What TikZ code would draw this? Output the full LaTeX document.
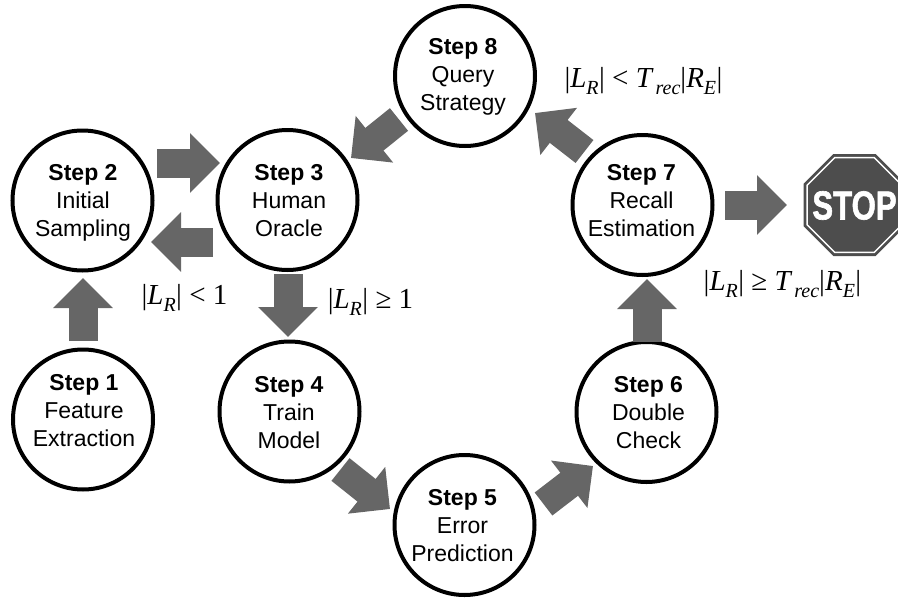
\documentclass[tikz,border=0pt]{standalone}
\usepackage{fontspec}
\setmainfont{Liberation Sans}
\newfontfamily\serfont{Liberation Serif}
\newfontfamily\stopfont[FakeBold=1.6]{Liberation Sans Bold}
\usetikzlibrary{arrows.meta,shapes.geometric}
\newcommand{\subit}[1]{\raisebox{-6.5pt}{\fontsize{20}{20}\selectfont\textit{#1}}}
\newcommand{\absL}{|\textit{L}\subit{R}\kern.5pt|}
\newcommand{\absR}{|\textit{R}\subit{E}\kern.5pt|}
\newcommand{\Trec}{\textit{T}\kern2pt\subit{rec}}
\definecolor{arrowgray}{HTML}{666666}
\definecolor{stopgray}{HTML}{4D4D4D}
\tikzset{
  stepnode/.style={circle,draw=black,fill=white,line width=4pt,minimum size=140pt,inner sep=0pt,outer sep=0pt},
  steptext/.style={inner sep=0pt,outer sep=0pt,align=center,font=\fontsize{23}{28}\selectfont},
  bigarrow/.style={draw=arrowgray,line width=29pt,-{Triangle[length=30pt,width=58pt]}},
  condlabel/.style={inner sep=0pt,outer sep=0pt,font=\serfont\fontsize{29}{29}\selectfont},
  octagon/.style={regular polygon,regular polygon sides=8,inner sep=0pt,outer sep=0pt},
}
\begin{document}
\begin{tikzpicture}[x=1pt,y=-1pt]
\path[use as bounding box,clip] (0,0) rectangle (898,600);
\node[stepnode] (s1) at (83,419.5) {};
\node[stepnode] (s2) at (82.5,200.5) {};
\node[stepnode] (s3) at (287.5,200) {};
\node[stepnode] (s4) at (289.5,411.5) {};
\node[stepnode] (s5) at (464.5,525) {};
\node[stepnode] (s6) at (646.5,412) {};
\node[stepnode] (s7) at (642.5,205) {};
\node[stepnode] (s8) at (465,76) {};
\node[steptext] (t1) at (84,411) {\textbf{Step 1}\\Feature\\Extraction};
\node[steptext] (t2) at (83,203) {\textbf{Step 2}\\Initial\\Sampling};
\node[steptext] (t3) at (289,201) {\textbf{Step 3}\\Human\\Oracle};
\node[steptext] (t4) at (289,413) {\textbf{Step 4}\\Train\\Model};
\node[steptext] (t5) at (462.5,526) {\textbf{Step 5}\\Error\\Prediction};
\node[steptext] (t6) at (648.5,413) {\textbf{Step 6}\\Double\\Check};
\node[steptext] (t7) at (641.5,201) {\textbf{Step 7}\\Recall\\Estimation};
\node[steptext] (t8) at (463,77) {\textbf{Step 8}\\Query\\Strategy};
\node[octagon,minimum size=110.4pt,fill=stopgray] (stop) at (854.5,205) {};
\node[octagon,minimum size=102.8pt,draw=white,line width=1.5pt] (stopring) at (stop.center) {};
\node[inner sep=0pt,outer sep=0pt,font=\stopfont\fontsize{40.5}{40.5}\selectfont,text=white] (stoptext) at (854.5,205.5) {\scalebox{.77}[1]{STOP}};
\draw[bigarrow] ([shift={(0,-78.5)}]s1.center) -- ([shift={(0.5,77.5)}]s2.center);
\draw[bigarrow] ([shift={(74.5,-37.5)}]s2.center) -- ([shift={(-67.5,-37)}]s3.center);
\draw[bigarrow] ([shift={(-74.5,42)}]s3.center) -- ([shift={(68.5,41.5)}]s2.center);
\draw[bigarrow] ([shift={(0.5,74)}]s3.center) -- ([shift={(-1.5,-74.5)}]s4.center);
\draw[bigarrow] ([shift={(51,58)}]s4.center) -- ([shift={(-74.5,-16)}]s5.center);
\draw[bigarrow] ([shift={(79,-21)}]s5.center) -- ([shift={(-53.5,54)}]s6.center);
\draw[bigarrow] ([shift={(0.5,-70)}]s6.center) -- ([shift={(4.5,74)}]s7.center);
\draw[bigarrow] ([shift={(-58,-53.5)}]s7.center) -- ([shift={(70,37)}]s8.center);
\draw[bigarrow] ([shift={(-66,43.5)}]s8.center) -- ([shift={(63.5,-42)}]s3.center);
\draw[bigarrow] ([shift={(82.5,0)}]s7.center) -- ([shift={(-67.5,0)}]stop.center);
\node[condlabel] (c1) at (184.5,298) {\absL\ < 1};
\node[condlabel] (c2) at (370.5,302) {\absL\ ≥ 1};
\node[condlabel] (c3) at (643.5,81) {\absL\ < \Trec\absR};
\node[condlabel] (c4) at (782.5,284) {\absL\ ≥ \Trec\absR};
\end{tikzpicture}
\end{document}
